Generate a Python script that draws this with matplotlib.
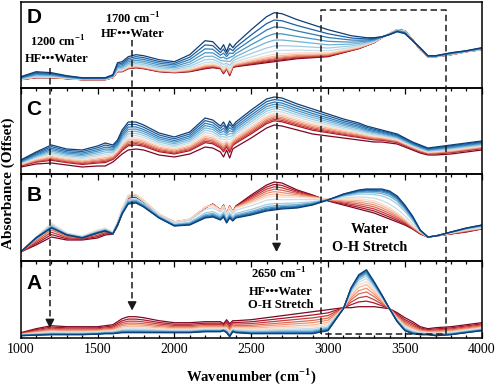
import numpy as np
import matplotlib
matplotlib.use("Agg")
import matplotlib.pyplot as plt
from matplotlib.ticker import MultipleLocator

plt.rcParams['font.family'] = ['Liberation Serif', 'DejaVu Serif']
plt.rcParams['mathtext.fontset'] = 'custom'
plt.rcParams['mathtext.rm'] = 'Liberation Serif'
plt.rcParams['mathtext.bf'] = 'Liberation Serif:bold'

# ---------------- data (absorbance offsets, arbitrary units) ----------------
wavenumber = [1000, 1100, 1200, 1300, 1400, 1500, 1550, 1600, 1630, 1660,
              1700, 1750, 1800, 1900, 2000, 2100, 2200, 2250, 2300, 2320,
              2340, 2360, 2380, 2400, 2500, 2600, 2650, 2700, 2800, 2900,
              3000, 3100, 3150, 3200, 3250, 3300, 3350, 3400, 3450, 3500,
              3550, 3600, 3650, 3700, 3800, 3900, 4000]

D_first = [8, 10, 10, 9, 8, 8, 8, 10, 16, 16,
           19, 20, 19, 16, 15, 16, 19, 20, 19, 14,
           19, 12, 20, 21, 23, 25, 26, 27, 29, 30,
           31, 35, 37, 39, 42, 45, 50, 54, 58, 57,
           48, 38, 31, 31, 33, 36, 38]
D_last = [11, 16, 15, 12, 10, 10, 10, 13, 25, 26,
          31, 33, 32, 28, 26, 33, 47, 46, 38, 43,
          36, 44, 40, 44, 58, 71, 75, 74, 68, 63,
          58, 54, 52, 51, 50, 50, 51, 53, 56, 54,
          47, 40, 32, 32, 35, 37, 40]

C_first = [7, 10, 11, 9, 7, 8, 8, 12, 16, 20,
           24, 25, 24, 19, 17, 20, 27, 26, 22, 17,
           24, 16, 25, 27, 36, 46, 49, 48, 44, 40,
           38, 36, 35, 34, 33, 32, 32, 31, 30, 27,
           24, 21, 19, 19, 20, 22, 24]
C_last = [14, 22, 29, 25, 24, 28, 31, 29, 34, 44,
          52, 52, 49, 41, 37, 42, 56, 54, 48, 52,
          46, 53, 48, 52, 64, 75, 77, 76, 70, 65,
          60, 55, 53, 51, 48, 46, 44, 42, 40, 36,
          32, 29, 26, 27, 29, 31, 33]

B_first = [9, 16, 24, 21, 21, 23, 26, 27, 35, 47,
           63, 64, 59, 46, 39, 41, 53, 57, 51, 56,
           47, 55, 49, 55, 66, 76, 79, 78, 71, 66,
           60, 56, 54, 52, 50, 48, 45, 42, 39, 36,
           32, 27, 24, 25, 27, 29, 32]
B_mid = [9, 24, 38, 28, 25, 31, 33, 29, 39, 53,
         66, 67, 61, 47, 39, 42, 54, 56, 51, 55,
         47, 54, 49, 53, 58, 64, 65, 64, 64, 63,
         62, 62, 62, 62, 61, 60, 57, 53, 48, 42,
         35, 29, 24, 25, 28, 31, 33]
B_last = [9, 23, 33, 26, 23, 28, 30, 27, 36, 47,
          57, 58, 54, 43, 35, 36, 43, 44, 41, 44,
          38, 43, 40, 43, 46, 50, 51, 52, 53, 56,
          61, 67, 69, 71, 72, 72, 72, 70, 65, 56,
          45, 31, 24, 25, 29, 33, 36]

A_first = [5, 9, 12, 11, 11, 11, 12, 13, 16, 19,
           21, 21, 20, 17, 15, 15, 16, 16, 16, 14,
           18, 14, 17, 17, 18, 20, 21, 22, 24, 26,
           28, 30, 30, 31, 31, 31, 30, 29, 25, 20,
           16, 11, 9, 10, 11, 13, 15]
A_last = [2, 2.5, 3, 3, 3, 3.5, 4, 4, 4.5, 5,
          5, 5, 5, 5, 5, 5, 6, 6, 6, 7,
          5, 1, 6, 5, 4, 4, 4, 4, 4, 4,
          7, 29, 50, 63, 68, 56, 43, 29, 16, 7,
          4, 3, 3, 2, 3, 5, 7]

# relative position of each spectrum between the anchor spectra
D_weights = [0, 0.02, 0.04, 0.06, 0.08, 0.11, 0.15, 0.22, 0.32, 0.44, 0.57, 0.71, 0.85, 1.0]
C_weights = [0, 0.15, 0.2, 0.25, 0.3, 0.36, 0.42, 0.5, 0.58, 0.66, 0.74, 0.82, 0.91, 1.0]
B_weights = [0, 0.06, 0.12, 0.18, 0.24, 0.3, 0.36, 0.5, 0.7, 0.8, 0.87, 0.92, 0.96, 1.0]
A_weights = [0, 0.15, 0.28, 0.4, 0.5, 0.6, 0.68, 0.76, 0.83, 0.88, 0.92, 0.95, 0.98, 1.0]

panel_names = ['D', 'C', 'B', 'A']
panel_anchors = {'D': ([0, 1], [D_first, D_last]),
                 'C': ([0, 1], [C_first, C_last]),
                 'B': ([0, 0.35, 1], [B_first, B_mid, B_last]),
                 'A': ([0, 1], [A_first, A_last])}
panel_weights = {'D': D_weights, 'C': C_weights, 'B': B_weights, 'A': A_weights}

# ---------------- layout (pixels of a 498x388 canvas) ----------------
W_PX, H_PX = 498, 388
L_PX, R_PX = 20.7, 481.7
panel_top = {'D': 2, 'C': 87.7, 'B': 174, 'A': 261}
panel_bot = {'D': 87.7, 'C': 174, 'B': 261, 'A': 337.7}
letter_base = {'D': 23.3, 'C': 115, 'B': 201, 'A': 289}

cmap = plt.cm.RdBu
n = 14
colors = list(cmap(np.linspace(0.03, 0.40, 7))) + list(cmap(np.linspace(0.62, 0.97, 7)))

fig = plt.figure(figsize=(W_PX / 100, H_PX / 100), dpi=100)
w = np.array(wavenumber, dtype=float)

for name in panel_names:
    top, bot = panel_top[name], panel_bot[name]
    ax = fig.add_axes([L_PX / W_PX, 1 - bot / H_PX, (R_PX - L_PX) / W_PX, (bot - top) / H_PX])
    pos, anchors = panel_anchors[name]
    arr = np.array(anchors, dtype=float)
    for k, t in enumerate(panel_weights[name]):
        y = np.array([np.interp(t, pos, arr[:, j]) for j in range(arr.shape[1])])
        ax.plot(w, y, color=colors[k], lw=0.9, zorder=2 + k * 0.01)
    ax.set_xlim(1000, 4000)
    ax.set_ylim(0, bot - top)
    ax.set_yticks([])
    ax.xaxis.set_major_locator(MultipleLocator(500))
    ax.xaxis.set_minor_locator(MultipleLocator(100))
    ax.tick_params(axis='x', which='both', direction='in',
                   top=(name != 'D'), bottom=(name == 'A'),
                   labelbottom=(name == 'A'), labelsize=10, pad=4, width=0.9)
    ax.tick_params(axis='x', which='major', length=4)
    ax.tick_params(axis='x', which='minor', length=2.5)
    for s in ax.spines.values():
        s.set_linewidth(1.1)
    ax.patch.set_alpha(0)
    fig.text(26.5 / W_PX, 1 - letter_base[name] / H_PX, name, family='Liberation Sans',
             fontweight='bold', fontsize=15, ha='left', va='baseline')

fig.text(251.5 / W_PX, 1 - 381 / H_PX, 'Wavenumber (cm$^{\\mathbf{-1}}$)', fontweight='bold',
         fontsize=10.5, ha='center', va='baseline')
fig.text(8 / W_PX, 1 - 183 / H_PX, 'Absorbance (Offset)', fontweight='bold', fontsize=11,
         rotation=90, ha='center', va='center')

# ---------------- annotation overlay ----------------
ov = fig.add_axes([L_PX / W_PX, 1 - 337.7 / H_PX, (R_PX - L_PX) / W_PX, (337.7 - 2) / H_PX])
ov.set_xlim(1000, 4000)
ov.set_ylim(337.7, 2)
ov.axis('off')
ov.patch.set_alpha(0)

dash = (0, (4.2, 2.4))
lc = '#1a1a1a'
arrow_x = [1190, 1725, 2665]
arrow_start = [68, 40, 12]
arrow_tip = [328, 310.5, 252]
for x, y0, y1 in zip(arrow_x, arrow_start, arrow_tip):
    ov.plot([x, x], [y0, y1 - 6], ls=dash, color=lc, lw=1.1)
    ov.annotate('', xy=(x, y1), xytext=(x, y1 - 7),
                arrowprops=dict(arrowstyle='-|>,head_length=0.5,head_width=0.26',
                                color=lc, lw=1.1, shrinkA=0, shrinkB=0))

box_x = [2952, 3768]
box_y = [10, 334]
ov.plot([box_x[0], box_x[0], box_x[1], box_x[1], box_x[0]],
        [box_y[1], box_y[0], box_y[0], box_y[1], box_y[1]], ls=dash, color=lc, lw=1.1)

ann = [(1242, 46.7, '1200 cm$^{\\mathbf{-1}}$', 9),
       (1236, 61.7, 'HF\u2022\u2022\u2022Water', 9),
       (1729, 23.3, '1700 cm$^{\\mathbf{-1}}$', 9),
       (1729, 37.3, 'HF\u2022\u2022\u2022Water', 9),
       (2680, 279, '2650 cm$^{\\mathbf{-1}}$', 9),
       (2690, 295, 'HF\u2022\u2022\u2022Water', 9),
       (2690, 308.5, 'O-H Stretch', 9),
       (3275, 232.7, 'Water', 10.3),
       (3268, 251, 'O-H Stretch', 10.3)]
for x, y, s, fs in ann:
    ov.text(x, y, s, fontweight='bold', fontsize=fs, ha='center', va='baseline')

fig.savefig('out.png', dpi=100)
